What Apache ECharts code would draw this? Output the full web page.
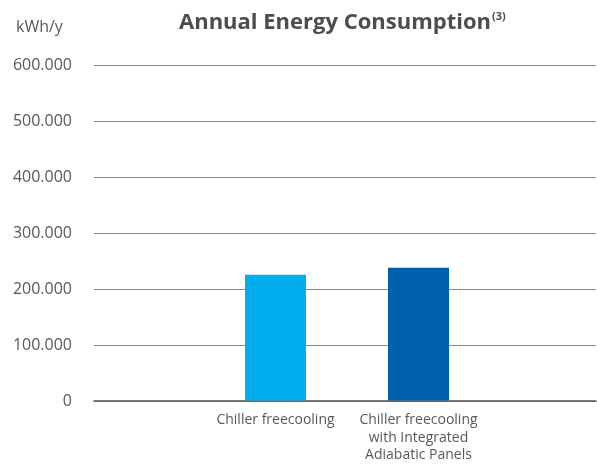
<!DOCTYPE html>
<html lang="en">
<head>
    <meta charset="UTF-8">
    <title>Annual Energy Consumption</title>
    <script src="https://cdn.jsdelivr.net/npm/echarts@6/dist/echarts.min.js"></script>
    <style>
        html, body { margin: 0; padding: 0; background: #fff; }
        #main { width: 597px; height: 464px; }
    </style>
</head>
<body>
<div id="main"></div>
<script type="text/javascript">
    // chart data
    var categories = ['Chiller freecooling', 'Chiller freecooling\nwith Integrated\nAdiabatic Panels'];
    var consumption = [225000, 237500];
    var barColors = ['#00adef', '#0061ae'];
    var yTicks = [0, 100000, 200000, 300000, 400000, 500000, 600000];

    var fontFamily = '"Open Sans", sans-serif';
    var textColor = '#585858';

    // 0 -> "0", 100000 -> "100.000"
    function fmt(v) {
        if (v === 0) return '0';
        return (v / 1000) + '.000';
    }

    var myChart = echarts.init(document.getElementById('main'));
    var option = {
        animation: false,
        title: {
            text: '{t|Annual Energy Consumption}{s|(3)}',
            left: 174,
            top: 6,
            textStyle: {
                rich: {
                    t: { fontFamily: fontFamily, fontWeight: 'bold', fontSize: 22, color: '#4d4d4d' },
                    s: { fontFamily: fontFamily, fontWeight: 'bold', fontSize: 11, color: '#4d4d4d', verticalAlign: 'top', padding: [0, 0, 12, 1] }
                }
            }
        },
        graphic: [{
            type: 'text',
            left: 16,
            top: 19,
            style: { text: 'kWh/y', font: '16px ' + fontFamily, fill: textColor }
        }],
        grid: [
            { left: 94, right: 1, top: 65, bottom: 63 },
            { left: 204, right: 107, top: 65, bottom: 63 }
        ],
        xAxis: [
            {
                gridIndex: 0,
                type: 'value',
                min: 0,
                max: 1,
                axisLine: { show: true, onZero: false, lineStyle: { color: '#555', width: 1.5 } },
                axisTick: { show: false },
                axisLabel: { show: false },
                splitLine: { show: false }
            },
            {
                gridIndex: 1,
                type: 'category',
                data: categories,
                axisLine: { show: false },
                axisTick: { show: false },
                axisLabel: {
                    margin: 11,
                    interval: 0,
                    fontFamily: fontFamily,
                    fontSize: 14,
                    lineHeight: 17.5,
                    color: textColor
                }
            }
        ],
        yAxis: [
            {
                gridIndex: 0,
                type: 'value',
                min: yTicks[0],
                max: yTicks[yTicks.length - 1],
                interval: yTicks[1] - yTicks[0],
                axisLine: { show: false },
                axisTick: { show: false },
                axisLabel: {
                    margin: 22,
                    fontFamily: fontFamily,
                    fontSize: 16,
                    color: textColor,
                    formatter: fmt
                },
                splitLine: { lineStyle: { color: '#888', width: 1.2 } }
            },
            {
                gridIndex: 1,
                type: 'value',
                min: yTicks[0],
                max: yTicks[yTicks.length - 1],
                show: false
            }
        ],
        series: [
            {
                type: 'bar',
                xAxisIndex: 1,
                yAxisIndex: 1,
                barWidth: 61,
                data: consumption.map(function (v, i) {
                    return { value: v, itemStyle: { color: barColors[i] } };
                })
            }
        ]
    };
    option && myChart.setOption(option);
</script>
</body>
</html>
